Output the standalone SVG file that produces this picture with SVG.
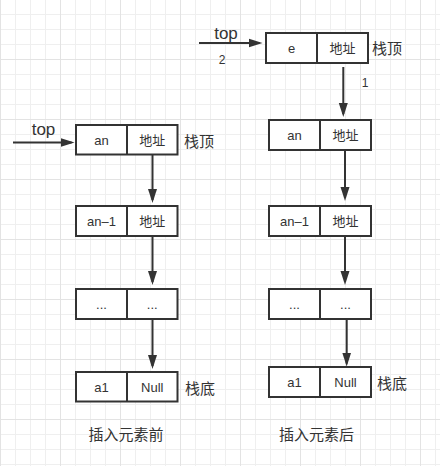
<svg xmlns="http://www.w3.org/2000/svg" width="440" height="466" viewBox="0 0 440 466">
<defs>
<pattern id="grid" width="60" height="60" patternUnits="userSpaceOnUse" x="0" y="-1">
<path d="M15.5 0V60M30.5 0V60M45.5 0V60M0 15.5H60M0 30.5H60M0 45.5H60" stroke="#efefef" stroke-width="1" fill="none"/>
<path d="M0.5 0V60M0 0.5H60" stroke="#e3e3e3" stroke-width="1" fill="none"/>
</pattern>
<marker id="ah" markerUnits="userSpaceOnUse" markerWidth="16" markerHeight="12" refX="11" refY="5" orient="auto" viewBox="0 0 16 12">
<path d="M0 0.5L14 5L0 9.5z" fill="#333"/>
</marker>
<style>
.box{fill:#fff;stroke:#333;stroke-width:2}
.div{stroke:#333;stroke-width:2}
.t{font-family:"Liberation Sans","Noto Sans CJK SC",sans-serif;font-size:13px;fill:#333;text-anchor:middle;dominant-baseline:central}
.lbl{font-family:"Liberation Sans","Noto Sans CJK SC",sans-serif;font-size:15px;fill:#333;dominant-baseline:central}
.top{font-family:"Liberation Sans",sans-serif;font-size:17px;fill:#333;text-anchor:middle}
.num{font-family:"Liberation Sans",sans-serif;font-size:12px;fill:#333;text-anchor:middle;dominant-baseline:central}
.cap{font-family:"Liberation Sans","Noto Sans CJK SC",sans-serif;font-size:15px;fill:#333;text-anchor:middle;dominant-baseline:central}
.c{stroke:#333;stroke-width:2;fill:none;marker-end:url(#ah)}
</style>
</defs>
<rect width="440" height="466" fill="#fff"/>
<rect width="440" height="466" fill="url(#grid)"/>

<g id="connectors">
<path class="c" d="M13 142.5H71.5"/>
<path class="c" d="M152.5 154.5V200"/>
<path class="c" d="M152.5 236V282"/>
<path class="c" d="M152.5 319V366"/>
<path class="c" d="M199 43H259.5"/>
<path class="c" d="M343.3 67V114"/>
<path class="c" d="M345 150V198"/>
<path class="c" d="M345 236V282"/>
<path class="c" d="M346.7 319V363.5"/>
</g>

<g id="top-left-label"><text class="top" x="43.5" y="135">top</text></g>
<g id="top-right-label"><text class="top" x="226" y="39">top</text></g>
<g id="label-2"><text class="num" x="222" y="60">2</text></g>
<g id="label-1"><text class="num" x="365" y="83">1</text></g>

<g id="L-an">
<rect class="box" x="76" y="125" width="101.5" height="29.5"/>
<line class="div" x1="127" y1="125" x2="127" y2="154.5"/>
<text class="t" x="101.5" y="140">an</text>
<text class="t" x="152.25" y="140">地址</text>
</g>
<g id="L-an1">
<rect class="box" x="76" y="206" width="101.5" height="30"/>
<line class="div" x1="127" y1="206" x2="127" y2="236"/>
<text class="t" x="101.5" y="221">an–1</text>
<text class="t" x="152.25" y="221">地址</text>
</g>
<g id="L-dots">
<rect class="box" x="76" y="289" width="101.5" height="30"/>
<line class="div" x1="127" y1="289" x2="127" y2="319"/>
<text class="t" x="101.5" y="304">...</text>
<text class="t" x="152.25" y="304">...</text>
</g>
<g id="L-a1">
<rect class="box" x="76" y="372" width="101.5" height="29.5"/>
<line class="div" x1="127" y1="372" x2="127" y2="401.5"/>
<text class="t" x="101.5" y="387">a1</text>
<text class="t" x="152.25" y="387">Null</text>
</g>
<g id="L-stack-top"><text class="lbl" x="184" y="141.5">栈顶</text></g>
<g id="L-stack-bottom"><text class="lbl" x="185" y="388">栈底</text></g>
<g id="L-caption"><text class="cap" x="126" y="434">插入元素前</text></g>

<g id="R-e">
<rect class="box" x="266" y="33" width="102" height="30"/>
<line class="div" x1="317" y1="33" x2="317" y2="63"/>
<text class="t" x="291.5" y="48">e</text>
<text class="t" x="342.5" y="48">地址</text>
</g>
<g id="R-an">
<rect class="box" x="269" y="120" width="102" height="30"/>
<line class="div" x1="320" y1="120" x2="320" y2="150"/>
<text class="t" x="294.5" y="135">an</text>
<text class="t" x="345.5" y="135">地址</text>
</g>
<g id="R-an1">
<rect class="box" x="269" y="206" width="102" height="30"/>
<line class="div" x1="320" y1="206" x2="320" y2="236"/>
<text class="t" x="294.5" y="221">an–1</text>
<text class="t" x="345.5" y="221">地址</text>
</g>
<g id="R-dots">
<rect class="box" x="269" y="289" width="102" height="30"/>
<line class="div" x1="320" y1="289" x2="320" y2="319"/>
<text class="t" x="294.5" y="304">...</text>
<text class="t" x="345.5" y="304">...</text>
</g>
<g id="R-a1">
<rect class="box" x="269" y="367" width="102" height="30"/>
<line class="div" x1="320" y1="367" x2="320" y2="397"/>
<text class="t" x="294.5" y="382">a1</text>
<text class="t" x="345.5" y="382">Null</text>
</g>
<g id="R-stack-top"><text class="lbl" x="372" y="48.5">栈顶</text></g>
<g id="R-stack-bottom"><text class="lbl" x="377" y="383">栈底</text></g>
<g id="R-caption"><text class="cap" x="316.5" y="434">插入元素后</text></g>
</svg>
